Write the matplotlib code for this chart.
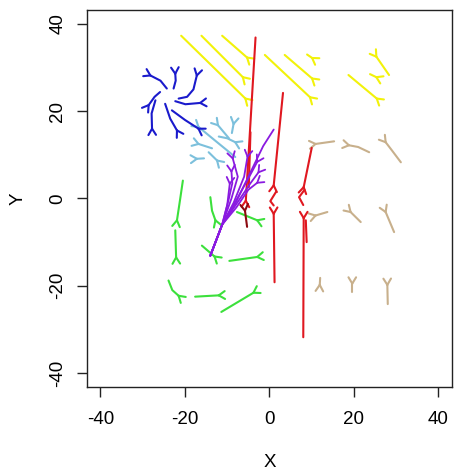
import numpy as np
import matplotlib
matplotlib.use("Agg")
import matplotlib.pyplot as plt

plt.rcParams['font.family'] = ['Liberation Sans', 'DejaVu Sans']

# trajectories, forked tip drawn at the last point of each track
yellow_tracks = [
    [(-20.9, 37.3), (-5.7, 22.9)],
    [(-16.1, 37.3), (-6.3, 27.8)],
    [(-11.2, 37.3), (-5.3, 32.3)],
    [(-1.1, 32.9), (9.6, 23.2)],
    [(3.6, 32.9), (10.1, 27.5)],
    [(8.9, 33.0), (10.1, 32.2)],
    [(18.7, 28.3), (25.4, 22.9)],
    [(23.8, 28.5), (25.3, 27.8)],
    [(28.3, 28.3), (25.3, 32.5)],
]

blue_tracks = [
    [(-24.3, 25.2), (-25.8, 27.0), (-28.2, 28.2)],
    [(-22.7, 25.2), (-22.2, 27.0), (-22.3, 28.6)],
    [(-21.5, 22.9), (-19.5, 23.3), (-18.0, 25.0), (-17.2, 28.2)],
    [(-22.3, 22.3), (-19.9, 21.6), (-16.4, 21.9)],
    [(-23.1, 20.2), (-20.0, 18.0), (-16.8, 16.0)],
    [(-24.7, 21.7), (-23.5, 18.3), (-21.9, 15.6)],
    [(-27.0, 22.5), (-27.9, 19.5), (-27.8, 16.0)],
    [(-25.9, 24.4), (-27.2, 23.3), (-28.6, 21.4)],
]

skyblue_tracks = [
    [(-8.1, 9.5), (-12.4, 12.9), (-16.8, 16.4)],
    [(-9.6, 13.8), (-12.2, 16.8)],
    [(-12.0, 14.2), (-10.0, 13.8), (-8.1, 12.9)],
    [(-8.9, 15.0), (-8.5, 17.1)],
    [(-13.6, 11.5), (-16.8, 12.5)],
    [(-15.5, 9.2), (-17.2, 9.1)],
    [(-14.4, 10.6), (-12.4, 8.7)],
]

purple_tracks = [
    [(-14.0, -13.1), (-11.2, -6.0), (-10.0, -1.5), (-9.4, 3.4)],
    [(-14.0, -13.1), (-11.2, -6.0), (-9.6, 0.0), (-8.8, 3.5), (-9.0, 6.2)],
    [(-14.0, -13.1), (-11.2, -6.0), (-9.0, 0.0), (-7.5, 5.0), (-8.7, 9.2)],
    [(-14.0, -13.1), (-11.2, -6.0), (-8.5, -1.0), (-6.0, 5.0), (-5.2, 9.6)],
    [(-14.0, -13.1), (-11.2, -6.0), (-7.8, -2.0), (-5.0, 2.0), (-2.9, 3.6)],
    [(-14.0, -13.1), (-11.2, -6.0), (-8.0, -1.5), (-4.5, 3.5), (-2.6, 6.0)],
    [(-14.0, -13.1), (-11.2, -6.0), (-8.2, -1.0), (-4.5, 5.5), (-2.9, 8.4)],
]
purple_plain = [
    [(-14.0, -13.1), (-11.2, -6.0), (-8.0, -1.0), (-4.5, 6.0), (-1.5, 12.0), (1.0, 15.8)],
]

red_tracks = [
    [(-3.3, 36.9), (-5.6, -0.5)],
    [(3.2, 24.2), (1.0, 3.0)],
    [(1.2, -19.2), (1.0, -3.5)],
    [(10.0, 11.6), (8.1, 2.6)],
    [(8.0, -31.8), (8.1, -4.5)],
]
red_plain = [
    [(-4.5, 15.2), (-4.9, 2.6)],
    [(1.6, 1.6), (0.2, -0.6), (1.0, -1.6)],
    [(8.3, 2.0), (7.0, 0.3), (8.0, -1.5)],
    [(8.6, -5.0), (8.8, -10.0)],
]
darkred_tracks = [
    [(-5.3, -6.5), (-5.8, -2.8)],
]

green_tracks = [
    [(-20.5, 4.1), (-21.2, -0.5), (-21.9, -5.0)],
    [(-14.0, 0.3), (-13.6, -2.8), (-12.8, -5.0)],
    [(-22.3, -7.3), (-22.1, -13.5)],
    [(-16.0, -10.8), (-13.0, -13.3)],
    [(-9.5, -14.3), (-2.9, -13.4)],
    [(-23.9, -18.8), (-23.0, -21.0), (-21.5, -22.3)],
    [(-17.6, -22.5), (-12.0, -22.2)],
    [(-11.4, -26.0), (-3.8, -21.6)],
    [(-7.7, -3.1), (-2.9, -5.0)],
]

tan_tracks = [
    [(15.3, 13.1), (10.9, 12.5)],
    [(23.6, 10.6), (21.0, 11.8), (18.8, 12.2)],
    [(31.1, 8.3), (29.0, 11.0), (27.5, 12.9)],
    [(13.7, -3.1), (10.9, -3.9)],
    [(21.6, -5.4), (19.2, -3.1)],
    [(29.5, -7.7), (27.5, -3.1)],
    [(12.0, -18.2), (11.9, -19.8)],
    [(19.6, -21.5), (19.6, -19.5)],
    [(28.0, -24.2), (27.9, -19.8)],
]

ticks = [-40, -20, 0, 20, 40]


def draw_track(ax, pts, color, fork=True, lw=1.5, size=1.7, ang=32):
    pts = np.array(pts, dtype=float)
    ax.plot(pts[:, 0], pts[:, 1], color=color, lw=lw, solid_capstyle='round')
    if not fork:
        return
    d = pts[-1] - pts[-2]
    d = d / np.hypot(*d)
    for s in (1, -1):
        a = np.radians(s * ang)
        r = np.array([d[0] * np.cos(a) - d[1] * np.sin(a),
                      d[0] * np.sin(a) + d[1] * np.cos(a)])
        tip = pts[-1] + size * r
        ax.plot([pts[-1, 0], tip[0]], [pts[-1, 1], tip[1]], color=color, lw=lw,
                solid_capstyle='round')


fig = plt.figure(figsize=(4.59, 4.76), dpi=100)
ax = fig.add_axes([0.1895, 0.187, 0.7952, 0.792])

for t in yellow_tracks:
    draw_track(ax, t, '#F2F20A')
for t in tan_tracks:
    draw_track(ax, t, '#C8B08C')
for t in green_tracks:
    draw_track(ax, t, '#3CE03C')
for t in skyblue_tracks:
    draw_track(ax, t, '#7CC0DC')
for t in blue_tracks:
    draw_track(ax, t, '#1A1ACC')
for t in red_tracks:
    draw_track(ax, t, '#E01820')
for t in red_plain:
    draw_track(ax, t, '#E01820', fork=False)
for t in darkred_tracks:
    draw_track(ax, t, '#8C0A10')
for t in purple_tracks:
    draw_track(ax, t, '#8A1AE0', lw=1.3)
for t in purple_plain:
    draw_track(ax, t, '#8A1AE0', fork=False, lw=1.3)

ax.set_xlim(-43.2, 43.2)
ax.set_ylim(-43.2, 43.2)
ax.set_xticks(ticks)
ax.set_yticks(ticks)
ax.set_xticklabels([str(v) for v in ticks])
ax.set_yticklabels([str(v) for v in ticks], rotation=90, va='center')
ax.tick_params(direction='out', length=7, width=1.0, labelsize=13.5, color='#222222')
ax.tick_params(axis='x', pad=10)
ax.tick_params(axis='y', pad=8)
for sp in ax.spines.values():
    sp.set_linewidth(1.0)
    sp.set_color('#222222')
ax.set_xlabel('X', fontsize=13.5, labelpad=19)
ax.set_ylabel('Y', fontsize=13.5, labelpad=16)

fig.savefig('out.png', dpi=100)
